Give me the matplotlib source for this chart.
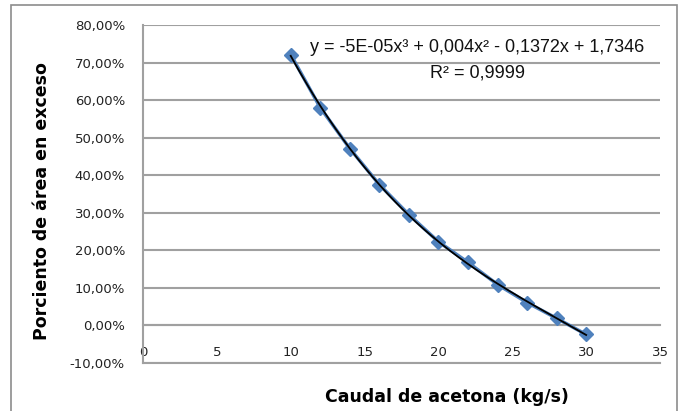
import numpy as np
import matplotlib.pyplot as plt
from matplotlib.patches import Rectangle
from matplotlib.ticker import FuncFormatter

# caudal de acetona (kg/s) vs porciento de area en exceso
caudal = [10, 12, 14, 16, 18, 20, 22, 24, 26, 28, 30]
porciento = [0.721, 0.580, 0.471, 0.375, 0.295, 0.223, 0.168, 0.109, 0.061, 0.019, -0.024]
x_ticks = [0, 5, 10, 15, 20, 25, 30, 35]
y_ticks = [-0.1, 0.0, 0.1, 0.2, 0.3, 0.4, 0.5, 0.6, 0.7, 0.8]
ecuacion = "y = -5E-05x³ + 0,004x² - 0,1372x + 1,7346"
r2 = "R² = 0,9999"

grid_col = "#a0a0a0"
azul = "#4f81bd"

fig = plt.figure(figsize=(6.78, 4.11), dpi=100)
ax = fig.add_axes([143/678, 48/411, 517/678, 338/411])

ax.plot(caudal, porciento, color=azul, lw=2.5, marker="D", ms=7.5,
        markerfacecolor=azul, markeredgecolor=azul, zorder=3)

# trendline (polinomica orden 3)
coef = np.polyfit(caudal, porciento, 3)
xs = np.linspace(caudal[0], caudal[-1], 200)
ax.plot(xs, np.polyval(coef, xs), color="black", lw=1.3, zorder=4)

ax.set_xlim(0, 35)
ax.set_ylim(-0.1, 0.8)
ax.set_xticks(x_ticks)
ax.set_yticks(y_ticks)
ax.yaxis.set_major_formatter(FuncFormatter(lambda v, p: f"{v*100:.2f}%".replace(".", ",")))
ax.grid(axis="y", color=grid_col, lw=1.5)
ax.axhline(y_ticks[0], color=grid_col, lw=1.5, clip_on=False, zorder=0)
ax.set_axisbelow(True)

ax.spines["top"].set_visible(False)
ax.spines["right"].set_visible(False)
ax.spines["left"].set_color(grid_col)
ax.spines["left"].set_linewidth(1.5)
ax.spines["bottom"].set_position(("data", 0))
ax.spines["bottom"].set_color(grid_col)
ax.spines["bottom"].set_linewidth(1.5)
ax.tick_params(axis="x", length=0, pad=15, labelsize=9.5, labelcolor="#222222")
ax.tick_params(axis="y", length=0, pad=13, labelsize=9.5, labelcolor="#222222")

ax.set_xlabel("Caudal de acetona (kg/s)", fontsize=12.5, fontweight="bold", labelpad=0)
ax.xaxis.set_label_coords(304/517, -0.075)
ax.set_ylabel("Porciento de área en exceso", fontsize=12.5, fontweight="bold")
ax.yaxis.set_label_coords(-92/517, 0.48)

ax.text(477/678, 1 - 47/411, ecuacion, transform=fig.transFigure, ha="center", va="center",
        fontsize=13, family="Liberation Sans", color="#111111")
ax.text(477/678, 1 - 73/411, r2, transform=fig.transFigure, ha="center", va="center",
        fontsize=13, family="Liberation Sans", color="#111111")

fig.patches.append(Rectangle((11/678, -0.05), 666/678, 406/411 + 0.05, transform=fig.transFigure,
                             fill=False, edgecolor="#8c8c8c", lw=1.2))

fig.savefig("out.png", dpi=100)
